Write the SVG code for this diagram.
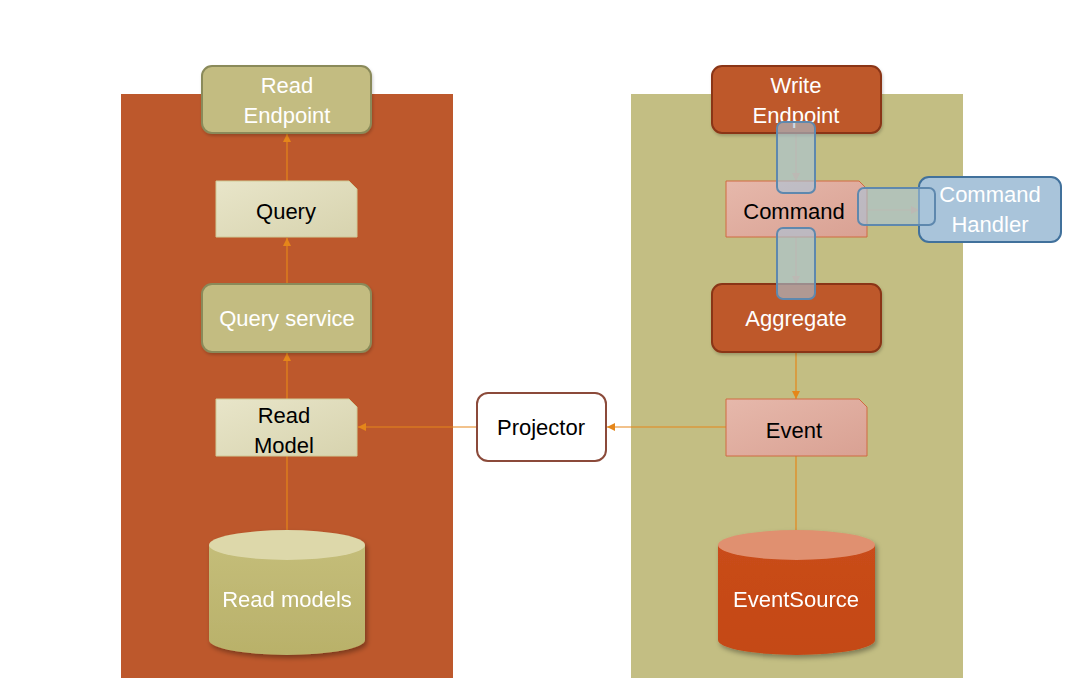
<svg xmlns="http://www.w3.org/2000/svg" width="1080" height="693" viewBox="0 0 1080 693">
<defs>
<style>
text{font-family:"Liberation Sans",Arial,sans-serif;font-size:22px;text-anchor:middle}
.w{fill:#ffffff}
.b{fill:#000000}
.conn{stroke:#E5861A;stroke-width:1.2;fill:none}
.conn2{stroke:#D9A77A;stroke-width:1.2;fill:none}
.ov{fill:#A9C4DA;fill-opacity:0.6;stroke:#5E88AE;stroke-width:2}
</style>
<linearGradient id="gNoteL" x1="0" y1="0" x2="1" y2="1">
<stop offset="0" stop-color="#E8E5C9"/><stop offset="1" stop-color="#D7D3AE"/>
</linearGradient>
<linearGradient id="gNoteR" x1="0" y1="0" x2="1" y2="1">
<stop offset="0" stop-color="#E6B8AB"/><stop offset="1" stop-color="#D9A193"/>
</linearGradient>
<linearGradient id="gCylL" x1="0" y1="0" x2="0" y2="1">
<stop offset="0" stop-color="#C4BD79"/><stop offset="1" stop-color="#B9B16A"/>
</linearGradient>
<linearGradient id="gCylR" x1="0" y1="0" x2="0" y2="1">
<stop offset="0" stop-color="#C94C1A"/><stop offset="1" stop-color="#C44815"/>
</linearGradient>
<filter id="sh" x="-20%" y="-20%" width="140%" height="140%">
<feDropShadow dx="2" dy="3" stdDeviation="2.5" flood-color="#000" flood-opacity="0.35"/>
</filter>
<filter id="sh2" x="-20%" y="-20%" width="140%" height="140%">
<feDropShadow dx="1" dy="2" stdDeviation="1.5" flood-color="#000" flood-opacity="0.2"/>
</filter>
<marker id="ah" viewBox="0 0 10 10" refX="10" refY="5" markerWidth="8" markerHeight="8" markerUnits="userSpaceOnUse" orient="auto">
<path d="M0,0 L10,5 L0,10 Z" fill="#E5861A"/>
</marker>
<marker id="ah2" viewBox="0 0 10 10" refX="10" refY="5" markerWidth="8" markerHeight="8" markerUnits="userSpaceOnUse" orient="auto">
<path d="M0,0 L10,5 L0,10 Z" fill="#D9A77A"/>
</marker>
</defs>
<rect width="1080" height="693" fill="#ffffff"/>
<g id="panels">
<rect id="read-side" x="121" y="94" width="332" height="584" fill="#BD582C"/>
<rect id="write-side" x="631" y="94" width="332" height="584" fill="#C3BE83"/>
</g>
<g id="connectors">
<line class="conn" x1="287" y1="181" x2="287" y2="134" marker-end="url(#ah)"/>
<line class="conn" x1="287" y1="284" x2="287" y2="238" marker-end="url(#ah)"/>
<line class="conn" x1="287" y1="399" x2="287" y2="353" marker-end="url(#ah)"/>
<line class="conn" x1="287" y1="530" x2="287" y2="456"/>
<line class="conn" x1="477" y1="427" x2="358" y2="427" marker-end="url(#ah)"/>
<line class="conn" x1="726" y1="427" x2="607" y2="427" marker-end="url(#ah)"/>
<line class="conn" x1="796" y1="352" x2="796" y2="399" marker-end="url(#ah)"/>
<line class="conn" x1="796" y1="456" x2="796" y2="530"/>
<line class="conn2" x1="796" y1="134" x2="796" y2="181" marker-end="url(#ah2)"/>
<line class="conn2" x1="867" y1="210" x2="919" y2="210" marker-end="url(#ah2)"/>
<line class="conn2" x1="796" y1="237" x2="796" y2="284" marker-end="url(#ah2)"/>
</g>
<g id="read-endpoint">
<rect x="202" y="66" width="169" height="67" rx="10" fill="#C3BC81" stroke="#8A8A5A" stroke-width="2" filter="url(#sh2)"/>
<text class="w" x="287" y="93">Read</text>
<text class="w" x="287" y="123">Endpoint</text>
</g>
<g id="query">
<path d="M216,181 H349 L357,189 V237 H216 Z" fill="url(#gNoteL)" stroke="#CFCB98" stroke-width="1"/>
<text class="b" x="286" y="219">Query</text>
</g>
<g id="query-service">
<rect x="202" y="284" width="169" height="68" rx="10" fill="#C3BC81" stroke="#8A8A5A" stroke-width="2" filter="url(#sh2)"/>
<text class="w" x="287" y="326">Query service</text>
</g>
<g id="read-model">
<path d="M216,399 H349 L357,407 V456 H216 Z" fill="url(#gNoteL)" stroke="#CFCB98" stroke-width="1"/>
<text class="b" x="284" y="423">Read</text>
<text class="b" x="284" y="453">Model</text>
</g>
<g id="read-models" filter="url(#sh)">
<path d="M209,545 V640 A78,15 0 0 0 365,640 V545 Z" fill="url(#gCylL)"/>
<ellipse cx="287" cy="545" rx="78" ry="15" fill="#DDD8AA"/>
<text class="w" x="287" y="607">Read models</text>
</g>
<g id="projector">
<rect x="477" y="393" width="129" height="68" rx="11" fill="#ffffff" stroke="#8B4A3A" stroke-width="2"/>
<text class="b" x="541" y="435">Projector</text>
</g>
<g id="write-endpoint">
<rect x="712" y="66" width="169" height="67" rx="10" fill="#BE582C" stroke="#8A3516" stroke-width="2" filter="url(#sh2)"/>
<text class="w" x="796" y="93">Write</text>
<text class="w" x="796" y="123">Endpoint</text>
</g>
<g id="command">
<path d="M726,181 H859 L867,189 V237 H726 Z" fill="url(#gNoteR)" stroke="#D06A40" stroke-width="1"/>
<text class="b" x="794" y="219">Command</text>
</g>
<g id="command-handler">
<rect x="919" y="177" width="142" height="65" rx="10" fill="#A9C4DA" stroke="#41719C" stroke-width="2"/>
<text class="w" x="990" y="202">Command</text>
<text class="w" x="990" y="232">Handler</text>
</g>
<g id="aggregate">
<rect x="712" y="284" width="169" height="68" rx="10" fill="#BE582C" stroke="#8A3516" stroke-width="2" filter="url(#sh2)"/>
<text class="w" x="796" y="326">Aggregate</text>
</g>
<g id="event">
<path d="M726,399 H859 L867,407 V456 H726 Z" fill="url(#gNoteR)" stroke="#D06A40" stroke-width="1"/>
<text class="b" x="794" y="438">Event</text>
</g>
<g id="eventsource" filter="url(#sh)">
<path d="M718,545 V640 A78.5,15 0 0 0 875,640 V545 Z" fill="url(#gCylR)"/>
<ellipse cx="796.5" cy="545" rx="78.5" ry="15" fill="#E0906F"/>
<text class="w" x="796" y="607">EventSource</text>
</g>
<g id="overlays">
<rect class="ov" x="777" y="122" width="38" height="71" rx="6"/>
<rect class="ov" x="858" y="188" width="77" height="37" rx="6"/>
<rect class="ov" x="777" y="228" width="38" height="71" rx="6"/>
</g>
</svg>
